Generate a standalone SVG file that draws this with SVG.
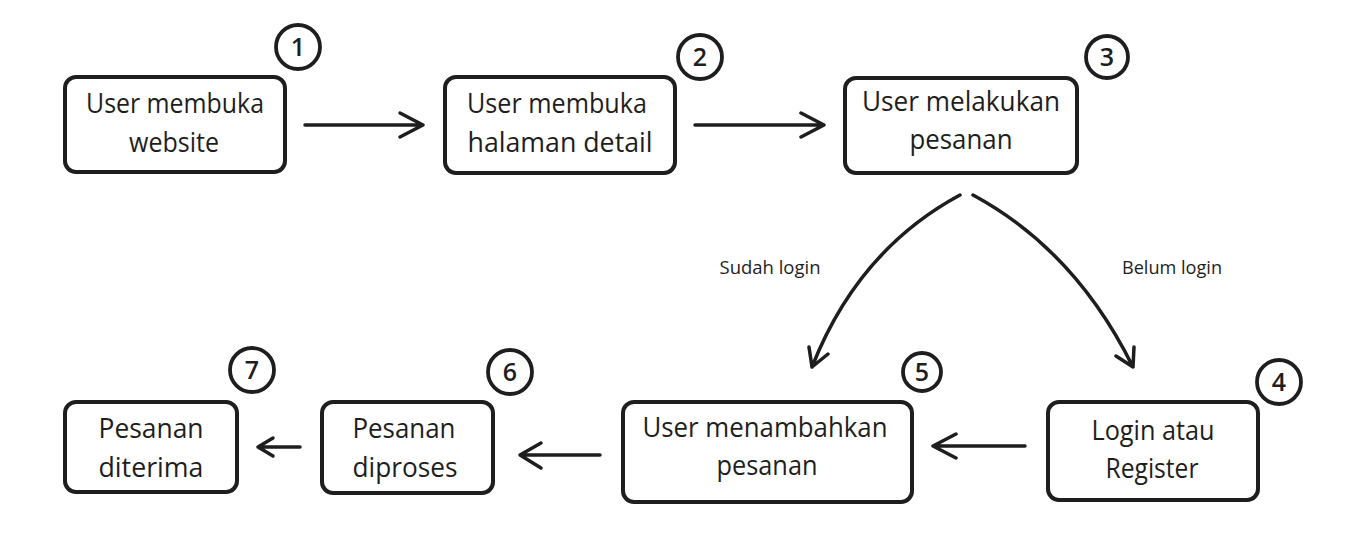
<svg xmlns="http://www.w3.org/2000/svg" width="1366" height="558" viewBox="0 0 1366 558">
<style>
  .box { fill: #ffffff; stroke: #1e1e1e; stroke-width: 4; }
  .num { fill: none; stroke: #1e1e1e; stroke-width: 3.8; }
  .t { font-family: "Open Sans", "Liberation Sans", sans-serif; font-size: 27px; font-weight: 500; fill: #1e1e1e; text-anchor: middle; }
  .n { font-family: "Open Sans", "Liberation Sans", sans-serif; font-size: 25px; font-weight: 600; fill: #1e1e1e; text-anchor: middle; }
  .lbl { font-family: "Open Sans", "Liberation Sans", sans-serif; font-size: 19px; fill: #1e1e1e; text-anchor: middle; }
  .edge { fill: none; stroke: #1e1e1e; stroke-width: 3.5; stroke-linecap: round; stroke-linejoin: round; }
</style>
<rect width="1366" height="558" fill="#ffffff"/>

<g id="connectors">
  <path class="edge" d="M305 125 L423 125 M400 113 L423 125 L400 137"/>
  <path class="edge" d="M695 125 L824 125 M801 113 L824 125 L801 137"/>
  <path class="edge" d="M960 195 Q858 250 812 367 M809 347 L812 367 L828 354"/>
  <path class="edge" d="M973 195 Q1075 250 1133 367 M1134 347 L1133 367 L1116 356"/>
  <text class="lbl" x="770" y="274" textLength="101" lengthAdjust="spacingAndGlyphs">Sudah login</text>
  <text class="lbl" x="1172" y="274" textLength="100" lengthAdjust="spacingAndGlyphs">Belum login</text>
  <path class="edge" d="M1025 446 L933 446 M956 434 L933 446 L956 458"/>
  <path class="edge" d="M600 455 L520 455 M541 443 L520 455 L541 468"/>
  <path class="edge" d="M300 447 L258 447 M273 438 L258 447 L273 456"/>
</g>

<g id="node1">
  <rect class="box" x="65" y="77" width="220" height="95" rx="11"/>
  <text class="t" x="175" y="113" textLength="178" lengthAdjust="spacingAndGlyphs">User membuka</text>
  <text class="t" x="174" y="152" textLength="90" lengthAdjust="spacingAndGlyphs">website</text>
  <circle class="num" cx="298" cy="47" r="22"/>
  <text class="n" x="298" y="56">1</text>
</g>

<g id="node2">
  <rect class="box" x="445" y="77" width="230" height="96" rx="11"/>
  <text class="t" x="557" y="113" textLength="180" lengthAdjust="spacingAndGlyphs">User membuka</text>
  <text class="t" x="560" y="152" textLength="185" lengthAdjust="spacingAndGlyphs">halaman detail</text>
  <circle class="num" cx="700" cy="57" r="22"/>
  <text class="n" x="700" y="66">2</text>
</g>

<g id="node3">
  <rect class="box" x="845" y="78" width="232" height="95" rx="11"/>
  <text class="t" x="961" y="111" textLength="198" lengthAdjust="spacingAndGlyphs">User melakukan</text>
  <text class="t" x="961" y="149" textLength="103" lengthAdjust="spacingAndGlyphs">pesanan</text>
  <circle class="num" cx="1107" cy="57" r="21"/>
  <text class="n" x="1107" y="66">3</text>
</g>

<g id="node4">
  <rect class="box" x="1048" y="402" width="210" height="98" rx="11"/>
  <text class="t" x="1153" y="440" textLength="123" lengthAdjust="spacingAndGlyphs">Login atau</text>
  <text class="t" x="1152" y="478" textLength="93" lengthAdjust="spacingAndGlyphs">Register</text>
  <circle class="num" cx="1279" cy="382" r="22"/>
  <text class="n" x="1279" y="391">4</text>
</g>

<g id="node5">
  <rect class="box" x="623" y="402" width="289" height="100" rx="11"/>
  <text class="t" x="765" y="437" textLength="245" lengthAdjust="spacingAndGlyphs">User menambahkan</text>
  <text class="t" x="767" y="475" textLength="101" lengthAdjust="spacingAndGlyphs">pesanan</text>
  <circle class="num" cx="922" cy="372" r="19"/>
  <text class="n" x="922" y="381">5</text>
</g>

<g id="node6">
  <rect class="box" x="322" y="402" width="171" height="91" rx="11"/>
  <text class="t" x="404" y="438" textLength="103" lengthAdjust="spacingAndGlyphs">Pesanan</text>
  <text class="t" x="405" y="477" textLength="105" lengthAdjust="spacingAndGlyphs">diproses</text>
  <circle class="num" cx="510" cy="372" r="22"/>
  <text class="n" x="510" y="381">6</text>
</g>

<g id="node7">
  <rect class="box" x="65" y="402" width="172" height="90" rx="11"/>
  <text class="t" x="151" y="438" textLength="105" lengthAdjust="spacingAndGlyphs">Pesanan</text>
  <text class="t" x="151" y="477" textLength="105" lengthAdjust="spacingAndGlyphs">diterima</text>
  <circle class="num" cx="252" cy="370" r="22"/>
  <text class="n" x="252" y="379">7</text>
</g>
</svg>
